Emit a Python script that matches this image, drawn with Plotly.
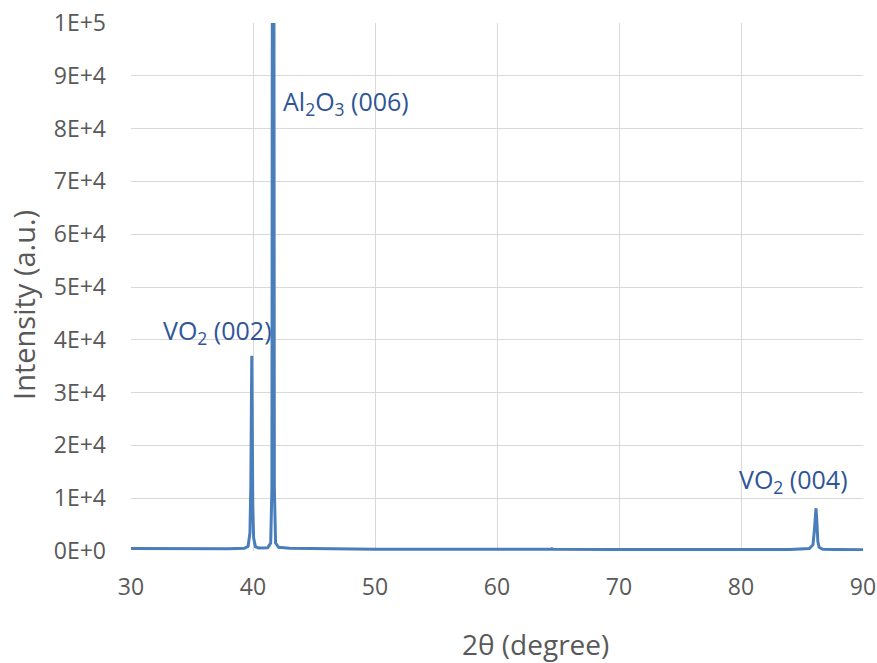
import plotly.graph_objects as go

# Diffraction pattern (2θ in degrees, intensity in counts)
two_theta = [30, 33, 36, 38, 39.3, 39.6, 39.75, 39.82, 39.87, 39.9, 39.93, 39.98, 40.05, 40.2, 40.5,
             41.2, 41.45, 41.55, 41.6, 41.65, 41.7, 41.75, 41.85, 42.1, 43, 46, 50, 55, 60, 64.4, 64.5,
             64.6, 70, 75, 80, 84, 85.6, 85.9, 86.0, 86.08, 86.15, 86.22, 86.3, 86.4, 86.7, 88, 90]
intensity = [450, 420, 420, 430, 500, 900, 3500, 12000, 28000, 37000, 28000, 9000, 2500, 800, 550,
             600, 1500, 12000, 150000, 300000, 150000, 12000, 1500, 700, 500, 400, 350, 320, 300, 320, 450,
             320, 280, 260, 260, 280, 450, 1200, 3500, 7000, 8100, 5500, 1800, 700, 330, 270, 260]

x_ticks = [30, 40, 50, 60, 70, 80, 90]
y_ticks = [0, 10000, 20000, 30000, 40000, 50000, 60000, 70000, 80000, 90000, 100000]
y_tick_text = ["0E+0", "1E+4", "2E+4", "3E+4", "4E+4", "5E+4", "6E+4", "7E+4", "8E+4", "9E+4", "1E+5"]

peak_labels = ["VO<sub>2</sub> (002)", "Al<sub>2</sub>O<sub>3</sub> (006)", "VO<sub>2</sub> (004)"]
label_x = [37.05, 47.6, 84.3]
label_y = [41500, 85000, 13300]

x_title = "2θ (degree)"
y_title = "Intensity (a.u.)"

FONT = "'Open Sans', Lato, sans-serif"
GREY = "#595959"

fig = go.Figure()
fig.add_trace(go.Scatter(
    x=two_theta, y=intensity, mode="lines",
    line=dict(color="#4A7EBB", width=3),
    hoverinfo="x+y", showlegend=False,
))

for t, xx, yy in zip(peak_labels, label_x, label_y):
    fig.add_annotation(x=xx, y=yy, text=t, showarrow=False,
                       font=dict(family=FONT, size=25, color="#2F5597"))

# axis titles placed as paper annotations for precise positioning
fig.add_annotation(xref="paper", yref="paper", x=0.552, y=0, yshift=-93, yanchor="middle",
                   text=x_title, showarrow=False, font=dict(family=FONT, size=28, color=GREY))
fig.add_annotation(xref="paper", yref="paper", x=0, y=0.466, xshift=-107, xanchor="center",
                   textangle=-90, text=y_title, showarrow=False,
                   font=dict(family=FONT, size=29, color=GREY))

fig.update_layout(
    width=877, height=663,
    margin=dict(l=131, r=14, t=23, b=112, autoexpand=False),
    paper_bgcolor="white", plot_bgcolor="white",
    font=dict(family=FONT, color=GREY),
    xaxis=dict(range=[30, 90], tickvals=x_ticks, showgrid=True, gridcolor="#D9D9D9",
               gridwidth=1, zeroline=False, showline=False, ticks="", automargin=False,
               ticklabelstandoff=20, ticklabeloverflow="allow",
               tickfont=dict(size=23, color=GREY)),
    yaxis=dict(range=[0, 100000], tickvals=y_ticks, ticktext=y_tick_text, showgrid=True,
               gridcolor="#D9D9D9", gridwidth=1, zeroline=False, showline=False, ticks="",
               automargin=False, ticklabelstandoff=24, ticklabeloverflow="allow",
               tickfont=dict(size=23, color=GREY)),
)

# remove the default 8px page margin so the figure fills the window exactly
fig.write_html("out.html", config={"displayModeBar": False},
               post_script="document.body.style.margin='0';")
